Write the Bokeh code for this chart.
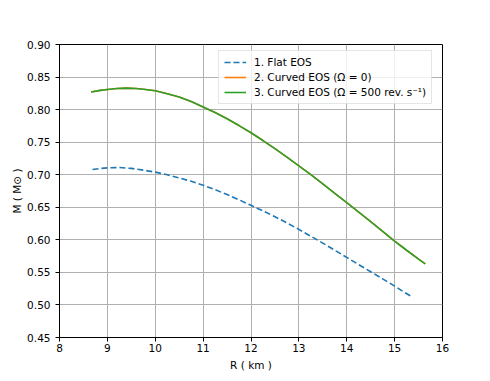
from bokeh.plotting import figure
from bokeh.models import Range1d, FixedTicker, Legend, LegendItem, NumeralTickFormatter
from bokeh.embed import file_html
from bokeh.resources import INLINE

# Data
flat_R = [8.69, 8.85, 9.0, 9.25, 9.5, 9.75, 10.0, 10.25, 10.5, 10.75, 11.0, 11.25, 11.5, 11.75,
          12.0, 12.25, 12.5, 12.75, 13.0, 13.25, 13.5, 13.75, 14.0, 14.25, 14.5, 14.75, 15.0, 15.2, 15.35]
flat_M = [0.708, 0.7095, 0.7105, 0.711, 0.7097, 0.707, 0.704, 0.700, 0.695, 0.690, 0.684, 0.677, 0.6695, 0.6615,
          0.653, 0.6445, 0.6355, 0.626, 0.616, 0.6055, 0.595, 0.584, 0.573, 0.562, 0.551, 0.540, 0.529, 0.5195, 0.513]

curved_R = [8.66, 8.85, 9.0, 9.2, 9.4, 9.6, 9.8, 10.0, 10.25, 10.5, 10.75, 11.0, 11.25, 11.5, 11.75,
            12.0, 12.25, 12.5, 12.75, 13.0, 13.25, 13.5, 13.75, 14.0, 14.25, 14.5, 14.75, 15.0, 15.25, 15.5, 15.64]
curved_M = [0.827, 0.8295, 0.831, 0.8325, 0.833, 0.8325, 0.831, 0.829, 0.8245, 0.8195, 0.8125, 0.804, 0.7955, 0.786, 0.7755,
            0.7645, 0.7525, 0.740, 0.727, 0.7135, 0.700, 0.686, 0.6715, 0.657, 0.6425, 0.628, 0.613, 0.598, 0.584, 0.5705, 0.563]

rot_R = list(curved_R)
rot_M = list(curved_M)

x_ticks = [8, 9, 10, 11, 12, 13, 14, 15, 16]
y_ticks = [0.45, 0.50, 0.55, 0.60, 0.65, 0.70, 0.75, 0.80, 0.85, 0.90]

labels = ["1. Flat EOS", "2. Curved EOS (\u03a9 = 0)", "3. Curved EOS (\u03a9 = 500 rev. s\u207b\u00b9)"]

FONT = "DejaVu Sans"
FS = "10.5px"

p = figure(width=474, height=373, output_backend="svg", toolbar_location=None,
           x_range=Range1d(8, 16), y_range=Range1d(0.45, 0.90),
           min_border_left=59, min_border_right=32, min_border_top=44, min_border_bottom=28)

p.background_fill_color = "white"
p.border_fill_color = "white"
p.outline_line_color = "black"
p.outline_line_width = 1

for ax in (p.xaxis[0], p.yaxis[0]):
    ax.axis_line_color = "black"
    ax.major_tick_line_color = "black"
    ax.major_tick_out = 4
    ax.major_tick_in = 0
    ax.minor_tick_line_color = None
    ax.major_label_text_font = FONT
    ax.major_label_text_font_size = FS
    ax.major_label_text_color = "black"
    ax.axis_label_text_font = FONT
    ax.axis_label_text_font_size = FS
    ax.axis_label_text_font_style = "normal"
    ax.axis_label_text_color = "black"

p.xaxis.ticker = FixedTicker(ticks=x_ticks)
p.yaxis.ticker = FixedTicker(ticks=y_ticks)
p.yaxis.formatter = NumeralTickFormatter(format="0.00")
p.xaxis.axis_label = "R ( km )"
p.yaxis.axis_label = "M ( M\u2299 )"
p.xaxis.major_label_standoff = 2
p.yaxis.major_label_standoff = 5
p.xaxis.axis_label_standoff = 4
p.yaxis.axis_label_standoff = 1

p.xgrid.ticker = FixedTicker(ticks=x_ticks)
p.ygrid.ticker = FixedTicker(ticks=y_ticks)
p.grid.grid_line_color = "#b0b0b0"
p.grid.grid_line_width = 1

r1 = p.line(flat_R, flat_M, line_color="#1f77b4", line_width=1.6, line_dash="6 3")
r2 = p.line(curved_R, curved_M, line_color="#ff7f0e", line_width=1.6)
r3 = p.line(rot_R, rot_M, line_color="#2ca02c", line_width=1.6)

legend = Legend(items=[LegendItem(label=labels[0], renderers=[r1]),
                       LegendItem(label=labels[1], renderers=[r2]),
                       LegendItem(label=labels[2], renderers=[r3])],
                location=(159, 233))
legend.label_text_font = FONT
legend.label_text_font_size = FS
legend.label_text_color = "black"
legend.border_line_color = "#cccccc"
legend.border_line_width = 1
legend.background_fill_alpha = 0.8
legend.glyph_width = 22
legend.glyph_height = 12
legend.label_standoff = 8
legend.label_height = 12
legend.padding = 5
legend.spacing = 3
legend.margin = 0
p.add_layout(legend, "center")

open("out.html", "w").write(file_html(p, INLINE))
